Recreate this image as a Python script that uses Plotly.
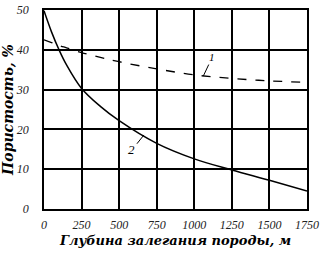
import plotly.graph_objects as go

depth = [0, 50, 100, 150, 250, 375, 500, 750, 1000, 1250, 1500, 1750]
porosity_2 = [49.8, 44.5, 40.0, 36.2, 30.3, 25.8, 22.2, 16.5, 12.6, 9.8, 7.2, 4.5]
porosity_1 = [42.5, 41.8, 41.1, 40.5, 39.3, 38.1, 37.0, 35.2, 33.7, 32.8, 32.2, 31.8]

x_ticks = [0, 250, 500, 750, 1000, 1250, 1500, 1750]
y_ticks = [0, 10, 20, 30, 40, 50]

fig = go.Figure()
fig.add_trace(go.Scatter(x=depth, y=porosity_1, mode="lines",
                         line=dict(color="black", width=1.3, dash="dash", shape="spline"),
                         showlegend=False))
fig.add_trace(go.Scatter(x=depth, y=porosity_2, mode="lines",
                         line=dict(color="black", width=1.5, shape="spline"),
                         showlegend=False))

serif = "Liberation Serif"
title_font = "DejaVu Serif"
fig.add_annotation(x=1060, y=33.4, text="1", showarrow=True, arrowhead=0, arrowwidth=1,
                   arrowcolor="black", ax=9, ay=-19,
                   font=dict(family=serif, size=11, style="italic", color="black"))
fig.add_annotation(x=665, y=18.6, text="2", showarrow=True, arrowhead=0, arrowwidth=1,
                   arrowcolor="black", ax=-12, ay=15,
                   font=dict(family=serif, size=13, style="italic", color="black"))

fig.update_layout(
    width=325, height=254,
    margin=dict(l=44, r=18, t=10, b=45),
    paper_bgcolor="white", plot_bgcolor="white",
    font=dict(family=serif, color="black"),
    xaxis=dict(range=[0, 1750], tickvals=x_ticks, showgrid=True, gridcolor="black",
               gridwidth=1.5, showline=True, linecolor="black", linewidth=1.5, mirror=True,
               zeroline=False, ticks="", ticklabelstandoff=4, automargin=False,
               tickfont=dict(family=serif, size=12, style="italic", color="#222"),
               title=dict(text="Глубина залегания породы, м", standoff=5,
                          font=dict(family=title_font, size=13, style="italic", weight="bold", color="black"))),
    yaxis=dict(range=[0, 50], tickvals=y_ticks, showgrid=True, gridcolor="black",
               gridwidth=1.5, showline=True, linecolor="black", linewidth=1.5, mirror=True,
               zeroline=False, ticks="", ticklabelstandoff=11, automargin=False,
               tickfont=dict(family=serif, size=12, style="italic", color="#222"),
               title=dict(text="Пористость, %", standoff=2,
                          font=dict(family=title_font, size=14, style="italic", weight="bold", color="black"))),
)
fig.write_html("out.html")
